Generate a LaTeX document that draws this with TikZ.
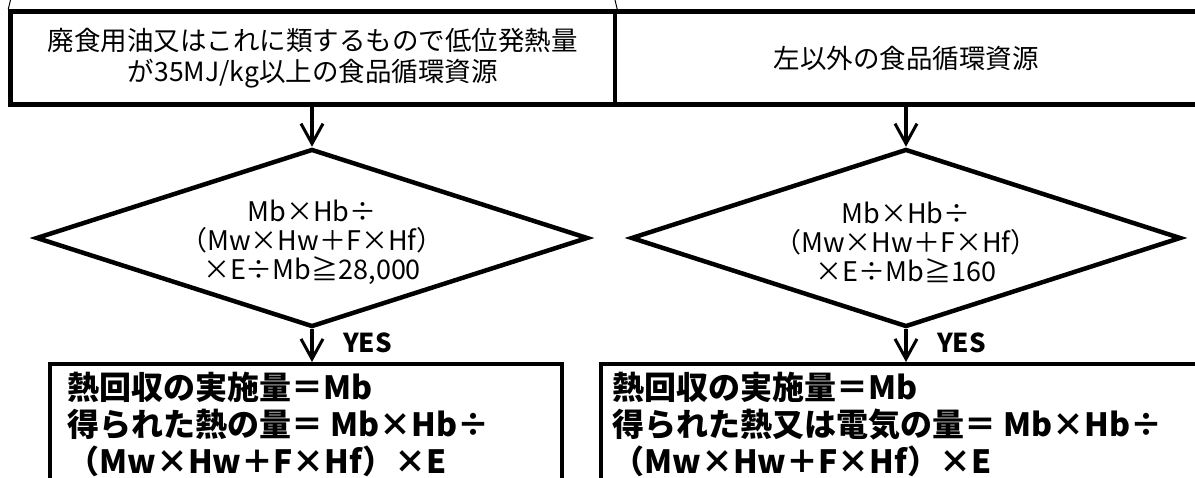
\documentclass[tikz,border=0pt]{standalone}
\usepackage{fontspec}
\setmainfont{Noto Sans CJK JP}
\usetikzlibrary{shapes.geometric,arrows.meta,positioning}

\tikzset{
  frame/.style={draw=black, line width=4.5pt, inner sep=0pt},
  cond/.style={diamond, draw=black, line width=4.5pt, inner sep=0pt},
  flow/.style={line width=3.5pt, -{Straight Barb[length=20pt,width=22pt,line width=3pt]}},
  rule/.style={draw=black, line width=1pt},
  srcfont/.style={font=\fontsize{26.5}{31}\selectfont},
  condfont/.style={font=\fontsize{27}{29}\selectfont, align=center},
  resfont/.style={font=\bfseries\fontsize{32}{37}\selectfont, align=left, anchor=north west},
  yes/.style={font=\bfseries\fontsize{26}{26}\selectfont}
}

\begin{document}
\begin{tikzpicture}[x=1pt,y=-1pt]
\useasboundingbox (0,0) rectangle (1195,478);
\clip (0,0) rectangle (1195,478);
% top row
\node [frame, srcfont, minimum width=604.5pt, minimum height=93pt, align=center] (srcA) at (312.75,58)
  {廃食用油又はこれに類するもので低位発熱量\\が35MJ/kg以上の食品循環資源};
\node [frame, srcfont, minimum width=582pt, minimum height=93pt] (srcB) at (906,58) {左以外の食品循環資源};
\coordinate (edgeL) at (10.5,0);
\coordinate (edgeM) at (615,0);
\draw [rule] (edgeL) -- (srcA.north west);
\draw [rule] (edgeM) -- (srcA.north east);
% tests
\node [cond, minimum width=552pt, minimum height=178pt] (testA) at (312,238) {};
\node [condfont] (testAtext) at ([yshift=-4pt]testA.center) {Mb×Hb÷\\（Mw×Hw＋F×Hf）\\×E÷Mb≧28,000};
\node [cond, minimum width=550pt, minimum height=178pt] (testB) at (906,238) {};
\node [condfont] (testBtext) at ([yshift=-4pt]testB.center) {Mb×Hb÷\\（Mw×Hw＋F×Hf）\\×E÷Mb≧160};
% results
\node [frame, minimum width=512pt, minimum height=150pt, anchor=north] (resA) at (306,362) {};
\node [resfont] (resAtext) at ([xshift=16pt,yshift=-7pt]resA.north west)
  {熱回収の実施量＝Mb\\得られた熱の量＝ Mb×Hb÷\\（Mw×Hw＋F×Hf）×E};
\node [frame, minimum width=614pt, minimum height=150pt, anchor=north] (resB) at (908,362) {};
\node [resfont] (resBtext) at ([xshift=10pt,yshift=-7pt]resB.north west)
  {熱回収の実施量＝Mb\\得られた熱又は電気の量＝ Mb×Hb÷\\（Mw×Hw＋F×Hf）×E};
% arrows
\draw [flow] (testA.north |- srcA.south) -- (testA.north);
\draw [flow] (testB.north |- srcB.south) -- (testB.north);
\draw [flow] (testA.south) -- (testA.south |- resA.north) node [yes, pos=0.4, right=26pt] {YES};
\draw [flow] (testB.south) -- (testB.south |- resB.north) node [yes, pos=0.4, right=26pt] {YES};
\end{tikzpicture}
\end{document}
